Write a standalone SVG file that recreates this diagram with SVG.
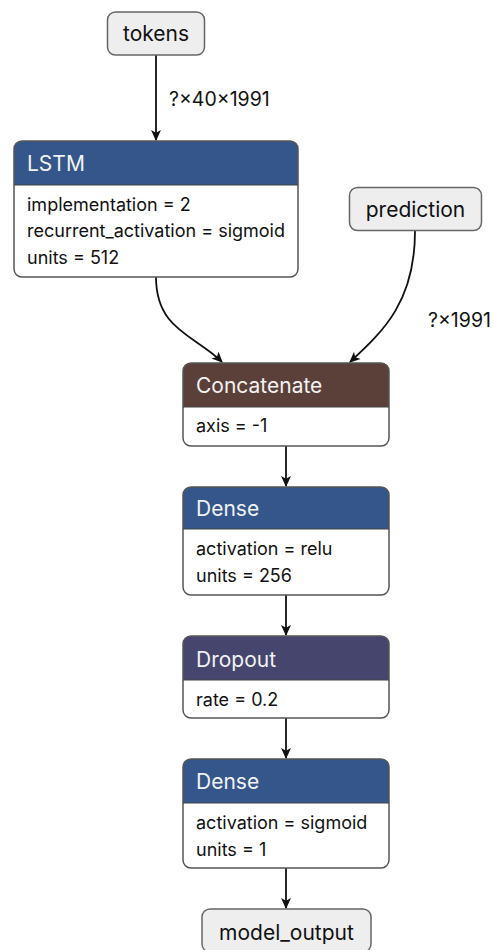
<svg xmlns="http://www.w3.org/2000/svg" width="494" height="950" viewBox="0 0 494 950">
<defs>
<style>
text{font-family:Inter,"Noto Sans","Liberation Sans",sans-serif;}
.io{fill:#eeeeee;stroke:#666;stroke-width:1.5;}
.box{fill:#fff;stroke:#555;stroke-width:1.5;}
.sep{stroke:#444;stroke-width:1.2;}
.t{font-size:21px;fill:#111;}
.h{font-size:21px;fill:#f2f2f2;}
.a{font-size:18px;fill:#111;}
.lbl{font-size:19.5px;fill:#111;}
.e{fill:none;stroke:#111;stroke-width:1.8;}
</style>
<marker id="arr" viewBox="0 0 10 10" refX="9" refY="5" markerWidth="11" markerHeight="11" markerUnits="userSpaceOnUse" orient="auto">
<path d="M0,0.5 L10,5 L0,9.5 L2.5,5 Z" fill="#111"/>
</marker>
<clipPath id="c-lstm"><rect x="14" y="141" width="284" height="136" rx="8"/></clipPath>
<clipPath id="c-cat"><rect x="183" y="363" width="206" height="83" rx="8"/></clipPath>
<clipPath id="c-d1"><rect x="183" y="487" width="206" height="108" rx="8"/></clipPath>
<clipPath id="c-dr"><rect x="183" y="636" width="206" height="82" rx="8"/></clipPath>
<clipPath id="c-d2"><rect x="183" y="759" width="206" height="109" rx="8"/></clipPath>
</defs>

<g id="connectors">
<path class="e" d="M156,55 L156,140" marker-end="url(#arr)"/>
<path class="e" d="M156,277 C156,330 195,335 222,362" marker-end="url(#arr)"/>
<path class="e" d="M415,231 C415,300 385,330 350,362" marker-end="url(#arr)"/>
<path class="e" d="M286,446 L286,486" marker-end="url(#arr)"/>
<path class="e" d="M286,595 L286,635" marker-end="url(#arr)"/>
<path class="e" d="M286,718 L286,758" marker-end="url(#arr)"/>
<path class="e" d="M286,868 L286,908" marker-end="url(#arr)"/>
<text class="lbl" x="169" y="106">?×40×1991</text>
<text class="lbl" x="428" y="327">?×1991</text>
</g>

<g id="tokens">
<rect class="io" x="107.5" y="12" width="97" height="43" rx="8"/>
<text class="t" x="156" y="41" text-anchor="middle">tokens</text>
</g>

<g id="prediction">
<rect class="io" x="349.5" y="187.5" width="132" height="43" rx="8"/>
<text class="t" x="415.5" y="217" text-anchor="middle">prediction</text>
</g>

<g id="lstm">
<rect x="14" y="141" width="284" height="44" fill="#34568b" clip-path="url(#c-lstm)"/>
<rect x="14" y="141" width="284" height="136" rx="8" fill="none" stroke="#555" stroke-width="1.5"/>
<line class="sep" x1="14" y1="185" x2="298" y2="185"/>
<text class="h" x="27" y="171">LSTM</text>
<text class="a" x="27" y="211">implementation = 2</text>
<text class="a" x="27" y="237">recurrent_activation = sigmoid</text>
<text class="a" x="27" y="264">units = 512</text>
</g>

<g id="concatenate">
<rect x="183" y="363" width="206" height="83" fill="#fff" clip-path="url(#c-cat)"/>
<rect x="183" y="363" width="206" height="44" fill="#5a4038" clip-path="url(#c-cat)"/>
<rect x="183" y="363" width="206" height="83" rx="8" fill="none" stroke="#555" stroke-width="1.5"/>
<line class="sep" x1="183" y1="407" x2="389" y2="407"/>
<text class="h" x="196" y="393">Concatenate</text>
<text class="a" x="196" y="432">axis = -1</text>
</g>

<g id="dense1">
<rect x="183" y="487" width="206" height="108" fill="#fff" clip-path="url(#c-d1)"/>
<rect x="183" y="487" width="206" height="42" fill="#34568b" clip-path="url(#c-d1)"/>
<rect x="183" y="487" width="206" height="108" rx="8" fill="none" stroke="#555" stroke-width="1.5"/>
<line class="sep" x1="183" y1="529" x2="389" y2="529"/>
<text class="h" x="196" y="516">Dense</text>
<text class="a" x="196" y="555">activation = relu</text>
<text class="a" x="196" y="582">units = 256</text>
</g>

<g id="dropout">
<rect x="183" y="636" width="206" height="82" fill="#fff" clip-path="url(#c-dr)"/>
<rect x="183" y="636" width="206" height="44" fill="#46456e" clip-path="url(#c-dr)"/>
<rect x="183" y="636" width="206" height="82" rx="8" fill="none" stroke="#555" stroke-width="1.5"/>
<line class="sep" x1="183" y1="680" x2="389" y2="680"/>
<text class="h" x="196" y="667">Dropout</text>
<text class="a" x="196" y="706">rate = 0.2</text>
</g>

<g id="dense2">
<rect x="183" y="759" width="206" height="109" fill="#fff" clip-path="url(#c-d2)"/>
<rect x="183" y="759" width="206" height="44" fill="#34568b" clip-path="url(#c-d2)"/>
<rect x="183" y="759" width="206" height="109" rx="8" fill="none" stroke="#555" stroke-width="1.5"/>
<line class="sep" x1="183" y1="803" x2="389" y2="803"/>
<text class="h" x="196" y="789">Dense</text>
<text class="a" x="196" y="829">activation = sigmoid</text>
<text class="a" x="196" y="856">units = 1</text>
</g>

<g id="model_output">
<rect class="io" x="202" y="909" width="169" height="43" rx="8"/>
<text class="t" x="286.5" y="940" text-anchor="middle">model_output</text>
</g>
</svg>
